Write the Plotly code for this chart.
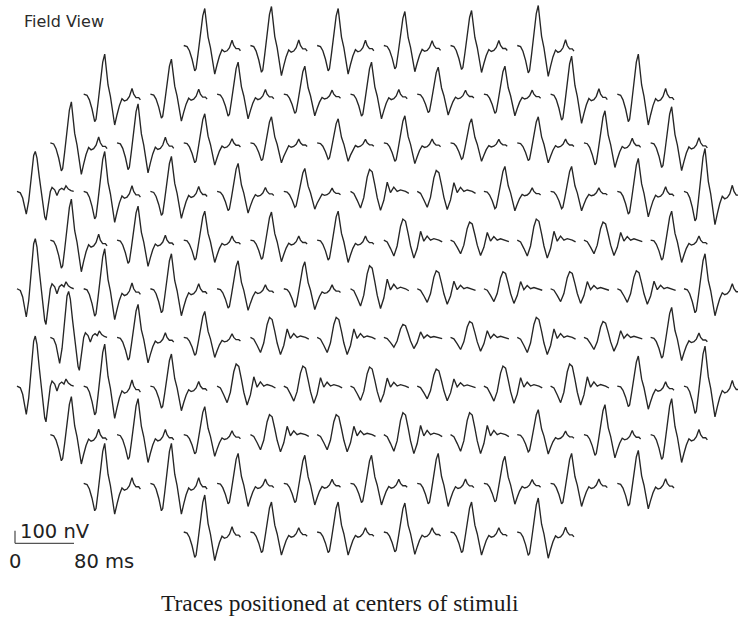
import plotly.graph_objects as go

# ---------------- data ----------------
# number of stimulus hexagons (traces) in each row, top to bottom (103 total)
ROW_COUNTS = [6, 9, 10, 11, 10, 11, 10, 11, 10, 9, 6]

# P1 amplitude (nV) of each trace, row by row
P1_ROW1 = [296, 312, 296, 272, 280, 320]
P1_ROW2 = [320, 280, 256, 224, 256, 216, 224, 304, 320]
P1_ROW3 = [328, 312, 232, 208, 192, 216, 192, 208, 256, 288]
P1_ROW4 = [320, 320, 280, 224, 184, 176, 168, 200, 200, 264, 344]
P1_ROW5 = [328, 272, 232, 224, 232, 168, 144, 168, 144, 232]
P1_ROW6 = [400, 320, 280, 224, 216, 184, 144, 136, 136, 144, 280]
P1_ROW7 = [368, 264, 208, 160, 160, 104, 128, 160, 128, 240]
P1_ROW8 = [400, 336, 256, 176, 160, 152, 136, 160, 176, 240, 320]
P1_ROW9 = [304, 288, 224, 160, 160, 176, 176, 200, 240, 288]
P1_ROW10 = [320, 320, 240, 224, 224, 240, 216, 240, 264]
P1_ROW11 = [296, 240, 240, 232, 240, 272]
P1_ROWS = [P1_ROW1, P1_ROW2, P1_ROW3, P1_ROW4, P1_ROW5, P1_ROW6,
           P1_ROW7, P1_ROW8, P1_ROW9, P1_ROW10, P1_ROW11]

# waveform shape used by each trace (0 = peripheral, 1 = central, 2 = far-left)
SHAPE_ROWS = [
    [0, 0, 0, 0, 0, 0],
    [0, 0, 0, 0, 0, 0, 0, 0, 0],
    [0, 0, 0, 0, 0, 0, 0, 0, 0, 0],
    [2, 0, 0, 0, 0, 1, 1, 0, 0, 0, 0],
    [0, 0, 0, 0, 0, 1, 1, 1, 1, 0],
    [2, 0, 0, 0, 0, 1, 1, 1, 1, 1, 0],
    [2, 0, 0, 1, 1, 1, 1, 1, 1, 0],
    [2, 0, 0, 1, 1, 1, 1, 1, 1, 0, 0],
    [0, 0, 0, 1, 1, 1, 1, 0, 0, 0],
    [0, 0, 0, 0, 0, 0, 0, 0, 0],
    [0, 0, 0, 0, 0, 0],
]

# measured waveforms (time in ms, response in nV) traced from three responses
SHAPE0_T = [0, 4.5, 7.7, 11.3, 14.9, 16.7, 19.4, 22.6, 25.8, 28.5, 30.2, 33.0, 36.2,
            39.3, 42.0, 45.2, 48.4, 51.9, 55.2, 58.7, 62.0, 65.5, 67.8, 70.9, 74.6, 76.9]
SHAPE0_V = [0, -8, -40, -104, -192, -176, -64, 96, 224, 280, 200, 64, -16,
            -120, -216, -144, -80, -32, -48, -40, -16, 40, 0, -24, -24, -40]
SHAPE1_T = [0, 4.5, 9.1, 13.6, 18.0, 22.6, 25.8, 29.4, 33.0, 36.2, 40.7, 45.2,
            49.8, 54.2, 58.7, 63.3, 67.8, 74.6, 79.1]
SHAPE1_V = [0, -10, -46, -86, -32, 74, 114, 102, 34, -32, -98, -46,
            48, -6, 22, 0, 8, 0, -10]
SHAPE2_T = [0, 4.5, 7.7, 11.3, 12.6, 15.9, 19.4, 22.6, 24.8, 27.1, 30.2, 33.9, 37.6,
            39.3, 42.0, 45.2, 47.5, 51.1, 54.2, 57.4, 60.6, 63.7, 66.4, 69.6, 73.2, 76.9]
SHAPE2_V = [0, -14, -66, -174, -226, -94, 120, 360, 400, 334, 146, -66, -254,
            -286, -146, 0, 40, 16, -40, 16, 32, 16, 56, 24, 8, 0]
SHAPES = [(SHAPE0_T, SHAPE0_V), (SHAPE1_T, SHAPE1_V), (SHAPE2_T, SHAPE2_V)]

SCALE_NV = 100
SCALE_MS = 80

# ---------------- layout constants ----------------
W, H = 738, 620
MS_PER_PX = 80 / 59.0
NV_PER_PX = 8.0
X0_PX = 17.0        # pixel where column 0 trace starts
Y0_PX = 45.5        # pixel of first row baseline
COL_PITCH_PX = 66.7
ROW_PITCH_PX = 48.65
MAXCOLS = max(ROW_COUNTS)

col_pitch = COL_PITCH_PX * MS_PER_PX
row_pitch = ROW_PITCH_PX * NV_PER_PX

xs, ys = [], []
for r, n in enumerate(ROW_COUNTS):
    first = (MAXCOLS - n) / 2.0
    base = -r * row_pitch
    for k in range(n):
        t, v = SHAPES[SHAPE_ROWS[r][k]]
        ref = max(v)
        a = P1_ROWS[r][k] / ref
        x0 = (first + k) * col_pitch
        xs += [x0 + ti for ti in t] + [None]
        ys += [base + vi * a for vi in v] + [None]

fig = go.Figure()
fig.add_trace(go.Scatter(x=xs, y=ys, mode="lines",
                         line=dict(color="#262626", width=1.35),
                         hoverinfo="skip", showlegend=False))

# scale bar
sb_x = (15 - X0_PX) * MS_PER_PX
sb_y = (Y0_PX - 543.3) * NV_PER_PX
fig.add_trace(go.Scatter(x=[sb_x, sb_x, None, sb_x, sb_x + SCALE_MS],
                         y=[sb_y + SCALE_NV, sb_y, None, sb_y, sb_y],
                         mode="lines", line=dict(color="#555555", width=1.3),
                         hoverinfo="skip", showlegend=False))

xr = [(0 - X0_PX) * MS_PER_PX, (W - X0_PX) * MS_PER_PX]
yr = [(Y0_PX - H) * NV_PER_PX, Y0_PX * NV_PER_PX]


def px(xp, yp):
    return xp / W, 1 - yp / H


annots = []
fx, fy = px(22, 21)
annots.append(dict(x=fx, y=fy, xref="paper", yref="paper", text="Field View",
                   xanchor="left", yanchor="middle", showarrow=False,
                   font=dict(family="DejaVu Sans", size=16, color="#2b2b2b")))
fx, fy = px(18, 531)
annots.append(dict(x=fx, y=fy, xref="paper", yref="paper", text="100 nV",
                   xanchor="left", yanchor="middle", showarrow=False,
                   font=dict(family="DejaVu Sans", size=19.5, color="#222")))
fx, fy = px(15, 561)
annots.append(dict(x=fx, y=fy, xref="paper", yref="paper", text="0",
                   xanchor="center", yanchor="middle", showarrow=False,
                   font=dict(family="DejaVu Sans", size=19.5, color="#222")))
fx, fy = px(72, 561)
annots.append(dict(x=fx, y=fy, xref="paper", yref="paper", text="80 ms",
                   xanchor="left", yanchor="middle", showarrow=False,
                   font=dict(family="DejaVu Sans", size=19.5, color="#222")))
fx, fy = px(340, 603)
annots.append(dict(x=fx, y=fy, xref="paper", yref="paper",
                   text="Traces positioned at centers of stimuli",
                   xanchor="center", yanchor="middle", showarrow=False,
                   font=dict(family="Liberation Serif", size=23.5, color="#1a1a1a")))

fig.update_layout(
    width=W, height=H, margin=dict(l=0, r=0, t=0, b=0),
    paper_bgcolor="white", plot_bgcolor="white",
    xaxis=dict(range=xr, visible=False, fixedrange=True),
    yaxis=dict(range=yr, visible=False, fixedrange=True),
    annotations=annots, showlegend=False,
)
fig.write_html("out.html")
